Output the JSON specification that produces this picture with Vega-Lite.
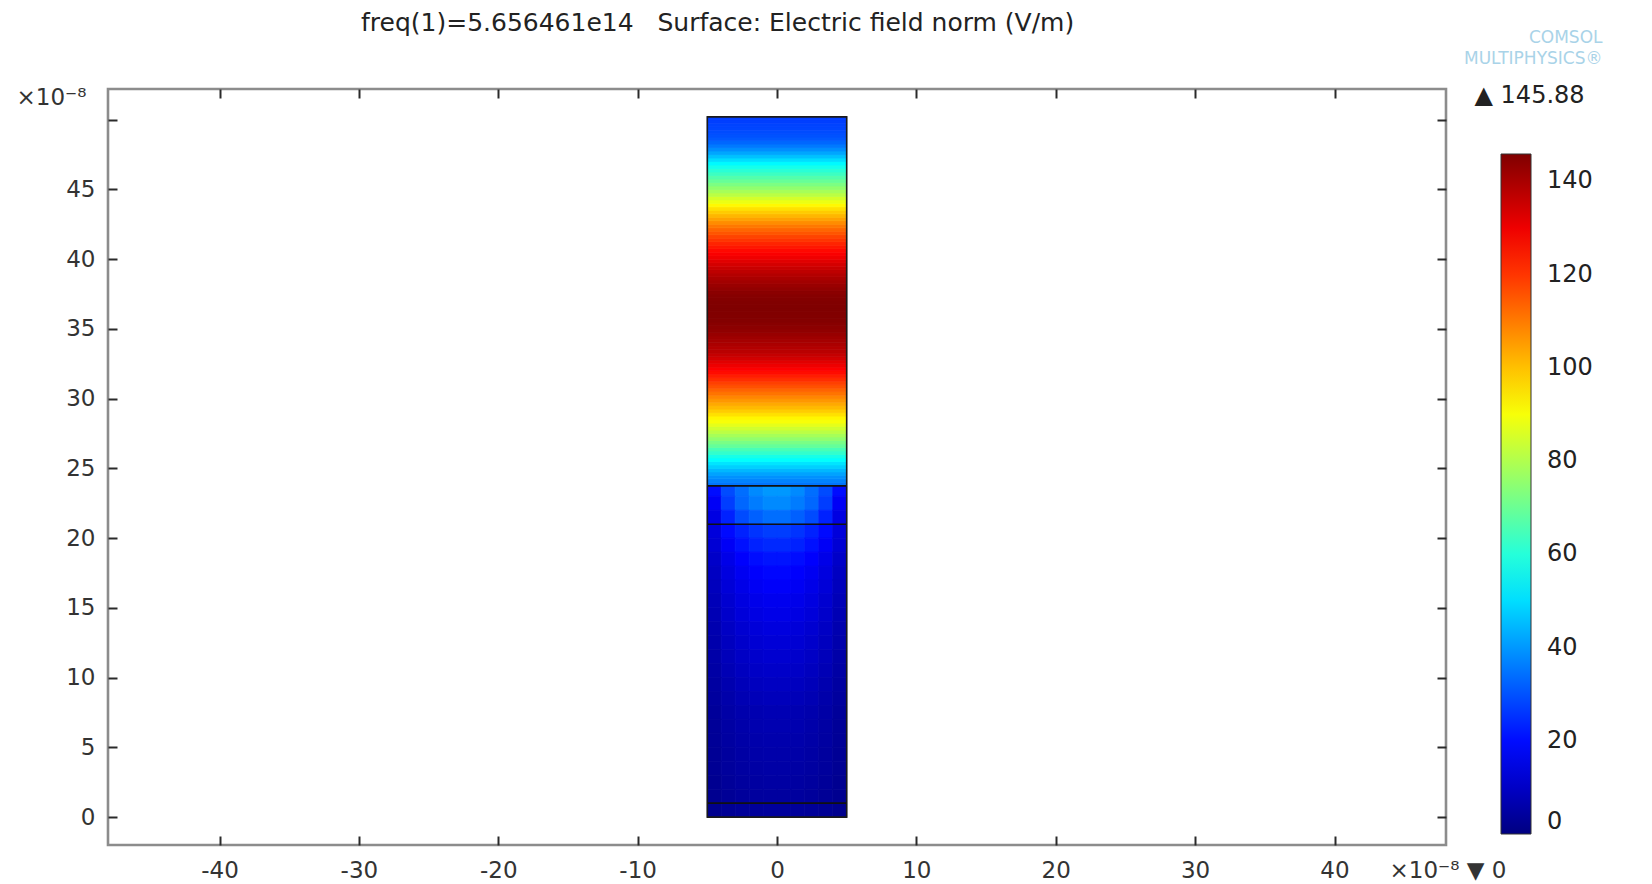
{
"$schema":"https://vega.github.io/schema/vega-lite/v6.json",
"width":1338,"height":756,
"autosize":{"type":"none"},
"padding":{"left":108,"top":89,"right":206,"bottom":39},
"background":"white",
"title":{"text":"freq(1)=5.656461e14\u00a0\u00a0\u00a0Surface: Electric field norm (V/m)","anchor":"start","dx":345,"offset":-28,"baseline":"alphabetic","font":"DejaVu Sans","fontSize":25,"fontWeight":"normal","color":"#222222"},
"datasets":{
"field":[
{"x0":-5,"x1":5,"y0":23.75,"y1":24,"E":35},
{"x0":-5,"x1":5,"y0":24,"y1":24.25,"E":37},
{"x0":-5,"x1":5,"y0":24.25,"y1":24.5,"E":39},
{"x0":-5,"x1":5,"y0":24.5,"y1":24.75,"E":41.5},
{"x0":-5,"x1":5,"y0":24.75,"y1":25,"E":44.5},
{"x0":-5,"x1":5,"y0":25,"y1":25.25,"E":48},
{"x0":-5,"x1":5,"y0":25.25,"y1":25.5,"E":51},
{"x0":-5,"x1":5,"y0":25.5,"y1":25.75,"E":55},
{"x0":-5,"x1":5,"y0":25.75,"y1":26,"E":58},
{"x0":-5,"x1":5,"y0":26,"y1":26.25,"E":62},
{"x0":-5,"x1":5,"y0":26.25,"y1":26.5,"E":65},
{"x0":-5,"x1":5,"y0":26.5,"y1":26.75,"E":69},
{"x0":-5,"x1":5,"y0":26.75,"y1":27,"E":72},
{"x0":-5,"x1":5,"y0":27,"y1":27.25,"E":75.5},
{"x0":-5,"x1":5,"y0":27.25,"y1":27.5,"E":78.5},
{"x0":-5,"x1":5,"y0":27.5,"y1":27.75,"E":81.5},
{"x0":-5,"x1":5,"y0":27.75,"y1":28,"E":84.5},
{"x0":-5,"x1":5,"y0":28,"y1":28.25,"E":87.5},
{"x0":-5,"x1":5,"y0":28.25,"y1":28.5,"E":90},
{"x0":-5,"x1":5,"y0":28.5,"y1":28.75,"E":92.5},
{"x0":-5,"x1":5,"y0":28.75,"y1":29,"E":95.5},
{"x0":-5,"x1":5,"y0":29,"y1":29.25,"E":98.5},
{"x0":-5,"x1":5,"y0":29.25,"y1":29.5,"E":101},
{"x0":-5,"x1":5,"y0":29.5,"y1":29.75,"E":103.5},
{"x0":-5,"x1":5,"y0":29.75,"y1":30,"E":106},
{"x0":-5,"x1":5,"y0":30,"y1":30.25,"E":108.5},
{"x0":-5,"x1":5,"y0":30.25,"y1":30.5,"E":111},
{"x0":-5,"x1":5,"y0":30.5,"y1":30.75,"E":113.5},
{"x0":-5,"x1":5,"y0":30.75,"y1":31,"E":116},
{"x0":-5,"x1":5,"y0":31,"y1":31.25,"E":118.5},
{"x0":-5,"x1":5,"y0":31.25,"y1":31.5,"E":121},
{"x0":-5,"x1":5,"y0":31.5,"y1":31.75,"E":123.5},
{"x0":-5,"x1":5,"y0":31.75,"y1":32,"E":126},
{"x0":-5,"x1":5,"y0":32,"y1":32.25,"E":128},
{"x0":-5,"x1":5,"y0":32.25,"y1":32.5,"E":130},
{"x0":-5,"x1":5,"y0":32.5,"y1":32.75,"E":132},
{"x0":-5,"x1":5,"y0":32.75,"y1":33,"E":134},
{"x0":-5,"x1":5,"y0":33,"y1":33.25,"E":136},
{"x0":-5,"x1":5,"y0":33.25,"y1":33.5,"E":137.5},
{"x0":-5,"x1":5,"y0":33.5,"y1":33.75,"E":138.5},
{"x0":-5,"x1":5,"y0":33.75,"y1":34,"E":139.5},
{"x0":-5,"x1":5,"y0":34,"y1":34.25,"E":140.5},
{"x0":-5,"x1":5,"y0":34.25,"y1":34.5,"E":141.5},
{"x0":-5,"x1":5,"y0":34.5,"y1":34.75,"E":142.5},
{"x0":-5,"x1":5,"y0":34.75,"y1":35,"E":143.5},
{"x0":-5,"x1":5,"y0":35,"y1":35.25,"E":144.2},
{"x0":-5,"x1":5,"y0":35.25,"y1":35.5,"E":144.8},
{"x0":-5,"x1":5,"y0":35.5,"y1":35.75,"E":145.3},
{"x0":-5,"x1":5,"y0":35.75,"y1":36,"E":145.6},
{"x0":-5,"x1":5,"y0":36,"y1":36.25,"E":145.8},
{"x0":-5,"x1":5,"y0":36.25,"y1":36.5,"E":145.88},
{"x0":-5,"x1":5,"y0":36.5,"y1":36.75,"E":145.88},
{"x0":-5,"x1":5,"y0":36.75,"y1":37,"E":145.7},
{"x0":-5,"x1":5,"y0":37,"y1":37.25,"E":145.4},
{"x0":-5,"x1":5,"y0":37.25,"y1":37.5,"E":145},
{"x0":-5,"x1":5,"y0":37.5,"y1":37.75,"E":144.3},
{"x0":-5,"x1":5,"y0":37.75,"y1":38,"E":143.3},
{"x0":-5,"x1":5,"y0":38,"y1":38.25,"E":142.3},
{"x0":-5,"x1":5,"y0":38.25,"y1":38.5,"E":141},
{"x0":-5,"x1":5,"y0":38.5,"y1":38.75,"E":139.8},
{"x0":-5,"x1":5,"y0":38.75,"y1":39,"E":138.5},
{"x0":-5,"x1":5,"y0":39,"y1":39.25,"E":137},
{"x0":-5,"x1":5,"y0":39.25,"y1":39.5,"E":135.5},
{"x0":-5,"x1":5,"y0":39.5,"y1":39.75,"E":133.8},
{"x0":-5,"x1":5,"y0":39.75,"y1":40,"E":132},
{"x0":-5,"x1":5,"y0":40,"y1":40.25,"E":130},
{"x0":-5,"x1":5,"y0":40.25,"y1":40.5,"E":128.3},
{"x0":-5,"x1":5,"y0":40.5,"y1":40.75,"E":126.5},
{"x0":-5,"x1":5,"y0":40.75,"y1":41,"E":124.5},
{"x0":-5,"x1":5,"y0":41,"y1":41.25,"E":122.5},
{"x0":-5,"x1":5,"y0":41.25,"y1":41.5,"E":120.2},
{"x0":-5,"x1":5,"y0":41.5,"y1":41.75,"E":118},
{"x0":-5,"x1":5,"y0":41.75,"y1":42,"E":115.5},
{"x0":-5,"x1":5,"y0":42,"y1":42.25,"E":113},
{"x0":-5,"x1":5,"y0":42.25,"y1":42.5,"E":110.5},
{"x0":-5,"x1":5,"y0":42.5,"y1":42.75,"E":107.5},
{"x0":-5,"x1":5,"y0":42.75,"y1":43,"E":104.5},
{"x0":-5,"x1":5,"y0":43,"y1":43.25,"E":101.5},
{"x0":-5,"x1":5,"y0":43.25,"y1":43.5,"E":98.5},
{"x0":-5,"x1":5,"y0":43.5,"y1":43.75,"E":95.5},
{"x0":-5,"x1":5,"y0":43.75,"y1":44,"E":92},
{"x0":-5,"x1":5,"y0":44,"y1":44.25,"E":88.5},
{"x0":-5,"x1":5,"y0":44.25,"y1":44.5,"E":85},
{"x0":-5,"x1":5,"y0":44.5,"y1":44.75,"E":81.5},
{"x0":-5,"x1":5,"y0":44.75,"y1":45,"E":78.5},
{"x0":-5,"x1":5,"y0":45,"y1":45.25,"E":75.5},
{"x0":-5,"x1":5,"y0":45.25,"y1":45.5,"E":72.5},
{"x0":-5,"x1":5,"y0":45.5,"y1":45.75,"E":69.5},
{"x0":-5,"x1":5,"y0":45.75,"y1":46,"E":66.5},
{"x0":-5,"x1":5,"y0":46,"y1":46.25,"E":63.5},
{"x0":-5,"x1":5,"y0":46.25,"y1":46.5,"E":60.5},
{"x0":-5,"x1":5,"y0":46.5,"y1":46.75,"E":57.5},
{"x0":-5,"x1":5,"y0":46.75,"y1":47,"E":54},
{"x0":-5,"x1":5,"y0":47,"y1":47.25,"E":50},
{"x0":-5,"x1":5,"y0":47.25,"y1":47.5,"E":46},
{"x0":-5,"x1":5,"y0":47.5,"y1":47.75,"E":42},
{"x0":-5,"x1":5,"y0":47.75,"y1":48,"E":38.5},
{"x0":-5,"x1":5,"y0":48,"y1":48.25,"E":35.5},
{"x0":-5,"x1":5,"y0":48.25,"y1":48.5,"E":33},
{"x0":-5,"x1":5,"y0":48.5,"y1":48.75,"E":31},
{"x0":-5,"x1":5,"y0":48.75,"y1":49,"E":30},
{"x0":-5,"x1":5,"y0":49,"y1":49.25,"E":29},
{"x0":-5,"x1":5,"y0":49.25,"y1":49.5,"E":28.3},
{"x0":-5,"x1":5,"y0":49.5,"y1":49.75,"E":27.8},
{"x0":-5,"x1":5,"y0":49.75,"y1":50,"E":27.3},
{"x0":-5,"x1":5,"y0":50,"y1":50.2,"E":27},
{"x0":-5,"x1":-4,"y0":23,"y1":23.75,"E":20},{"x0":-4,"x1":-3,"y0":23,"y1":23.75,"E":29},{"x0":-3,"x1":-2,"y0":23,"y1":23.75,"E":34},{"x0":-2,"x1":-1,"y0":23,"y1":23.75,"E":38},{"x0":-1,"x1":0,"y0":23,"y1":23.75,"E":40},{"x0":0,"x1":1,"y0":23,"y1":23.75,"E":40},{"x0":1,"x1":2,"y0":23,"y1":23.75,"E":38},{"x0":2,"x1":3,"y0":23,"y1":23.75,"E":34},{"x0":3,"x1":4,"y0":23,"y1":23.75,"E":29},{"x0":4,"x1":5,"y0":23,"y1":23.75,"E":20},
{"x0":-5,"x1":-4,"y0":22,"y1":23,"E":17},{"x0":-4,"x1":-3,"y0":22,"y1":23,"E":27},{"x0":-3,"x1":-2,"y0":22,"y1":23,"E":33},{"x0":-2,"x1":-1,"y0":22,"y1":23,"E":36},{"x0":-1,"x1":0,"y0":22,"y1":23,"E":38},{"x0":0,"x1":1,"y0":22,"y1":23,"E":38},{"x0":1,"x1":2,"y0":22,"y1":23,"E":36},{"x0":2,"x1":3,"y0":22,"y1":23,"E":33},{"x0":3,"x1":4,"y0":22,"y1":23,"E":27},{"x0":4,"x1":5,"y0":22,"y1":23,"E":17},
{"x0":-5,"x1":-4,"y0":21,"y1":22,"E":14},{"x0":-4,"x1":-3,"y0":21,"y1":22,"E":23},{"x0":-3,"x1":-2,"y0":21,"y1":22,"E":29},{"x0":-2,"x1":-1,"y0":21,"y1":22,"E":32},{"x0":-1,"x1":0,"y0":21,"y1":22,"E":34},{"x0":0,"x1":1,"y0":21,"y1":22,"E":34},{"x0":1,"x1":2,"y0":21,"y1":22,"E":32},{"x0":2,"x1":3,"y0":21,"y1":22,"E":29},{"x0":3,"x1":4,"y0":21,"y1":22,"E":23},{"x0":4,"x1":5,"y0":21,"y1":22,"E":14},
{"x0":-5,"x1":-4,"y0":20,"y1":21,"E":13},{"x0":-4,"x1":-3,"y0":20,"y1":21,"E":19.5},{"x0":-3,"x1":-2,"y0":20,"y1":21,"E":23},{"x0":-2,"x1":-1,"y0":20,"y1":21,"E":25.5},{"x0":-1,"x1":0,"y0":20,"y1":21,"E":27},{"x0":0,"x1":1,"y0":20,"y1":21,"E":27},{"x0":1,"x1":2,"y0":20,"y1":21,"E":25.5},{"x0":2,"x1":3,"y0":20,"y1":21,"E":23},{"x0":3,"x1":4,"y0":20,"y1":21,"E":19.5},{"x0":4,"x1":5,"y0":20,"y1":21,"E":13},
{"x0":-5,"x1":-4,"y0":19,"y1":20,"E":12},{"x0":-4,"x1":-3,"y0":19,"y1":20,"E":17},{"x0":-3,"x1":-2,"y0":19,"y1":20,"E":20.5},{"x0":-2,"x1":-1,"y0":19,"y1":20,"E":23},{"x0":-1,"x1":0,"y0":19,"y1":20,"E":24},{"x0":0,"x1":1,"y0":19,"y1":20,"E":24},{"x0":1,"x1":2,"y0":19,"y1":20,"E":23},{"x0":2,"x1":3,"y0":19,"y1":20,"E":20.5},{"x0":3,"x1":4,"y0":19,"y1":20,"E":17},{"x0":4,"x1":5,"y0":19,"y1":20,"E":12},
{"x0":-5,"x1":-4,"y0":18,"y1":19,"E":10.5},{"x0":-4,"x1":-3,"y0":18,"y1":19,"E":15},{"x0":-3,"x1":-2,"y0":18,"y1":19,"E":18},{"x0":-2,"x1":-1,"y0":18,"y1":19,"E":20},{"x0":-1,"x1":0,"y0":18,"y1":19,"E":21},{"x0":0,"x1":1,"y0":18,"y1":19,"E":21},{"x0":1,"x1":2,"y0":18,"y1":19,"E":20},{"x0":2,"x1":3,"y0":18,"y1":19,"E":18},{"x0":3,"x1":4,"y0":18,"y1":19,"E":15},{"x0":4,"x1":5,"y0":18,"y1":19,"E":10.5},
{"x0":-5,"x1":-4,"y0":17,"y1":18,"E":9.5},{"x0":-4,"x1":-3,"y0":17,"y1":18,"E":13.7},{"x0":-3,"x1":-2,"y0":17,"y1":18,"E":16.3},{"x0":-2,"x1":-1,"y0":17,"y1":18,"E":18},{"x0":-1,"x1":0,"y0":17,"y1":18,"E":19},{"x0":0,"x1":1,"y0":17,"y1":18,"E":19},{"x0":1,"x1":2,"y0":17,"y1":18,"E":18},{"x0":2,"x1":3,"y0":17,"y1":18,"E":16.3},{"x0":3,"x1":4,"y0":17,"y1":18,"E":13.7},{"x0":4,"x1":5,"y0":17,"y1":18,"E":9.5},
{"x0":-5,"x1":-4,"y0":16,"y1":17,"E":8.8},{"x0":-4,"x1":-3,"y0":16,"y1":17,"E":12.6},{"x0":-3,"x1":-2,"y0":16,"y1":17,"E":15},{"x0":-2,"x1":-1,"y0":16,"y1":17,"E":16.6},{"x0":-1,"x1":0,"y0":16,"y1":17,"E":17.5},{"x0":0,"x1":1,"y0":16,"y1":17,"E":17.5},{"x0":1,"x1":2,"y0":16,"y1":17,"E":16.6},{"x0":2,"x1":3,"y0":16,"y1":17,"E":15},{"x0":3,"x1":4,"y0":16,"y1":17,"E":12.6},{"x0":4,"x1":5,"y0":16,"y1":17,"E":8.8},
{"x0":-5,"x1":-4,"y0":15,"y1":16,"E":8},{"x0":-4,"x1":-3,"y0":15,"y1":16,"E":11.5},{"x0":-3,"x1":-2,"y0":15,"y1":16,"E":13.8},{"x0":-2,"x1":-1,"y0":15,"y1":16,"E":15.2},{"x0":-1,"x1":0,"y0":15,"y1":16,"E":16},{"x0":0,"x1":1,"y0":15,"y1":16,"E":16},{"x0":1,"x1":2,"y0":15,"y1":16,"E":15.2},{"x0":2,"x1":3,"y0":15,"y1":16,"E":13.8},{"x0":3,"x1":4,"y0":15,"y1":16,"E":11.5},{"x0":4,"x1":5,"y0":15,"y1":16,"E":8},
{"x0":-5,"x1":-4,"y0":14,"y1":15,"E":7.5},{"x0":-4,"x1":-3,"y0":14,"y1":15,"E":10.8},{"x0":-3,"x1":-2,"y0":14,"y1":15,"E":12.9},{"x0":-2,"x1":-1,"y0":14,"y1":15,"E":14.2},{"x0":-1,"x1":0,"y0":14,"y1":15,"E":15},{"x0":0,"x1":1,"y0":14,"y1":15,"E":15},{"x0":1,"x1":2,"y0":14,"y1":15,"E":14.2},{"x0":2,"x1":3,"y0":14,"y1":15,"E":12.9},{"x0":3,"x1":4,"y0":14,"y1":15,"E":10.8},{"x0":4,"x1":5,"y0":14,"y1":15,"E":7.5},
{"x0":-5,"x1":-4,"y0":13,"y1":14,"E":6.8},{"x0":-4,"x1":-3,"y0":13,"y1":14,"E":9.7},{"x0":-3,"x1":-2,"y0":13,"y1":14,"E":11.6},{"x0":-2,"x1":-1,"y0":13,"y1":14,"E":12.8},{"x0":-1,"x1":0,"y0":13,"y1":14,"E":13.5},{"x0":0,"x1":1,"y0":13,"y1":14,"E":13.5},{"x0":1,"x1":2,"y0":13,"y1":14,"E":12.8},{"x0":2,"x1":3,"y0":13,"y1":14,"E":11.6},{"x0":3,"x1":4,"y0":13,"y1":14,"E":9.7},{"x0":4,"x1":5,"y0":13,"y1":14,"E":6.8},
{"x0":-5,"x1":-4,"y0":12,"y1":13,"E":6.3},{"x0":-4,"x1":-3,"y0":12,"y1":13,"E":9},{"x0":-3,"x1":-2,"y0":12,"y1":13,"E":10.8},{"x0":-2,"x1":-1,"y0":12,"y1":13,"E":11.9},{"x0":-1,"x1":0,"y0":12,"y1":13,"E":12.5},{"x0":0,"x1":1,"y0":12,"y1":13,"E":12.5},{"x0":1,"x1":2,"y0":12,"y1":13,"E":11.9},{"x0":2,"x1":3,"y0":12,"y1":13,"E":10.8},{"x0":3,"x1":4,"y0":12,"y1":13,"E":9},{"x0":4,"x1":5,"y0":12,"y1":13,"E":6.3},
{"x0":-5,"x1":-4,"y0":11,"y1":12,"E":5.8},{"x0":-4,"x1":-3,"y0":11,"y1":12,"E":8.3},{"x0":-3,"x1":-2,"y0":11,"y1":12,"E":9.9},{"x0":-2,"x1":-1,"y0":11,"y1":12,"E":10.9},{"x0":-1,"x1":0,"y0":11,"y1":12,"E":11.5},{"x0":0,"x1":1,"y0":11,"y1":12,"E":11.5},{"x0":1,"x1":2,"y0":11,"y1":12,"E":10.9},{"x0":2,"x1":3,"y0":11,"y1":12,"E":9.9},{"x0":3,"x1":4,"y0":11,"y1":12,"E":8.3},{"x0":4,"x1":5,"y0":11,"y1":12,"E":5.8},
{"x0":-5,"x1":-4,"y0":10,"y1":11,"E":5.3},{"x0":-4,"x1":-3,"y0":10,"y1":11,"E":7.6},{"x0":-3,"x1":-2,"y0":10,"y1":11,"E":9},{"x0":-2,"x1":-1,"y0":10,"y1":11,"E":10},{"x0":-1,"x1":0,"y0":10,"y1":11,"E":10.5},{"x0":0,"x1":1,"y0":10,"y1":11,"E":10.5},{"x0":1,"x1":2,"y0":10,"y1":11,"E":10},{"x0":2,"x1":3,"y0":10,"y1":11,"E":9},{"x0":3,"x1":4,"y0":10,"y1":11,"E":7.6},{"x0":4,"x1":5,"y0":10,"y1":11,"E":5.3},
{"x0":-5,"x1":-4,"y0":9,"y1":10,"E":4.8},{"x0":-4,"x1":-3,"y0":9,"y1":10,"E":6.8},{"x0":-3,"x1":-2,"y0":9,"y1":10,"E":8.2},{"x0":-2,"x1":-1,"y0":9,"y1":10,"E":9},{"x0":-1,"x1":0,"y0":9,"y1":10,"E":9.5},{"x0":0,"x1":1,"y0":9,"y1":10,"E":9.5},{"x0":1,"x1":2,"y0":9,"y1":10,"E":9},{"x0":2,"x1":3,"y0":9,"y1":10,"E":8.2},{"x0":3,"x1":4,"y0":9,"y1":10,"E":6.8},{"x0":4,"x1":5,"y0":9,"y1":10,"E":4.8},
{"x0":-5,"x1":-4,"y0":8,"y1":9,"E":4.3},{"x0":-4,"x1":-3,"y0":8,"y1":9,"E":6.1},{"x0":-3,"x1":-2,"y0":8,"y1":9,"E":7.3},{"x0":-2,"x1":-1,"y0":8,"y1":9,"E":8.1},{"x0":-1,"x1":0,"y0":8,"y1":9,"E":8.5},{"x0":0,"x1":1,"y0":8,"y1":9,"E":8.5},{"x0":1,"x1":2,"y0":8,"y1":9,"E":8.1},{"x0":2,"x1":3,"y0":8,"y1":9,"E":7.3},{"x0":3,"x1":4,"y0":8,"y1":9,"E":6.1},{"x0":4,"x1":5,"y0":8,"y1":9,"E":4.3},
{"x0":-5,"x1":-4,"y0":7,"y1":8,"E":3.8},{"x0":-4,"x1":-3,"y0":7,"y1":8,"E":5.4},{"x0":-3,"x1":-2,"y0":7,"y1":8,"E":6.5},{"x0":-2,"x1":-1,"y0":7,"y1":8,"E":7.1},{"x0":-1,"x1":0,"y0":7,"y1":8,"E":7.5},{"x0":0,"x1":1,"y0":7,"y1":8,"E":7.5},{"x0":1,"x1":2,"y0":7,"y1":8,"E":7.1},{"x0":2,"x1":3,"y0":7,"y1":8,"E":6.5},{"x0":3,"x1":4,"y0":7,"y1":8,"E":5.4},{"x0":4,"x1":5,"y0":7,"y1":8,"E":3.8},
{"x0":-5,"x1":-4,"y0":6,"y1":7,"E":3.5},{"x0":-4,"x1":-3,"y0":6,"y1":7,"E":5},{"x0":-3,"x1":-2,"y0":6,"y1":7,"E":6},{"x0":-2,"x1":-1,"y0":6,"y1":7,"E":6.7},{"x0":-1,"x1":0,"y0":6,"y1":7,"E":7},{"x0":0,"x1":1,"y0":6,"y1":7,"E":7},{"x0":1,"x1":2,"y0":6,"y1":7,"E":6.7},{"x0":2,"x1":3,"y0":6,"y1":7,"E":6},{"x0":3,"x1":4,"y0":6,"y1":7,"E":5},{"x0":4,"x1":5,"y0":6,"y1":7,"E":3.5},
{"x0":-5,"x1":-4,"y0":5,"y1":6,"E":3.3},{"x0":-4,"x1":-3,"y0":5,"y1":6,"E":4.7},{"x0":-3,"x1":-2,"y0":5,"y1":6,"E":5.6},{"x0":-2,"x1":-1,"y0":5,"y1":6,"E":6.2},{"x0":-1,"x1":0,"y0":5,"y1":6,"E":6.5},{"x0":0,"x1":1,"y0":5,"y1":6,"E":6.5},{"x0":1,"x1":2,"y0":5,"y1":6,"E":6.2},{"x0":2,"x1":3,"y0":5,"y1":6,"E":5.6},{"x0":3,"x1":4,"y0":5,"y1":6,"E":4.7},{"x0":4,"x1":5,"y0":5,"y1":6,"E":3.3},
{"x0":-5,"x1":-4,"y0":4,"y1":5,"E":3},{"x0":-4,"x1":-3,"y0":4,"y1":5,"E":4.3},{"x0":-3,"x1":-2,"y0":4,"y1":5,"E":5.2},{"x0":-2,"x1":-1,"y0":4,"y1":5,"E":5.7},{"x0":-1,"x1":0,"y0":4,"y1":5,"E":6},{"x0":0,"x1":1,"y0":4,"y1":5,"E":6},{"x0":1,"x1":2,"y0":4,"y1":5,"E":5.7},{"x0":2,"x1":3,"y0":4,"y1":5,"E":5.2},{"x0":3,"x1":4,"y0":4,"y1":5,"E":4.3},{"x0":4,"x1":5,"y0":4,"y1":5,"E":3},
{"x0":-5,"x1":-4,"y0":3,"y1":4,"E":2.8},{"x0":-4,"x1":-3,"y0":3,"y1":4,"E":4},{"x0":-3,"x1":-2,"y0":3,"y1":4,"E":4.7},{"x0":-2,"x1":-1,"y0":3,"y1":4,"E":5.2},{"x0":-1,"x1":0,"y0":3,"y1":4,"E":5.5},{"x0":0,"x1":1,"y0":3,"y1":4,"E":5.5},{"x0":1,"x1":2,"y0":3,"y1":4,"E":5.2},{"x0":2,"x1":3,"y0":3,"y1":4,"E":4.7},{"x0":3,"x1":4,"y0":3,"y1":4,"E":4},{"x0":4,"x1":5,"y0":3,"y1":4,"E":2.8},
{"x0":-5,"x1":-4,"y0":2,"y1":3,"E":2.5},{"x0":-4,"x1":-3,"y0":2,"y1":3,"E":3.6},{"x0":-3,"x1":-2,"y0":2,"y1":3,"E":4.3},{"x0":-2,"x1":-1,"y0":2,"y1":3,"E":4.8},{"x0":-1,"x1":0,"y0":2,"y1":3,"E":5},{"x0":0,"x1":1,"y0":2,"y1":3,"E":5},{"x0":1,"x1":2,"y0":2,"y1":3,"E":4.8},{"x0":2,"x1":3,"y0":2,"y1":3,"E":4.3},{"x0":3,"x1":4,"y0":2,"y1":3,"E":3.6},{"x0":4,"x1":5,"y0":2,"y1":3,"E":2.5},
{"x0":-5,"x1":-4,"y0":1,"y1":2,"E":2.3},{"x0":-4,"x1":-3,"y0":1,"y1":2,"E":3.2},{"x0":-3,"x1":-2,"y0":1,"y1":2,"E":3.9},{"x0":-2,"x1":-1,"y0":1,"y1":2,"E":4.3},{"x0":-1,"x1":0,"y0":1,"y1":2,"E":4.5},{"x0":0,"x1":1,"y0":1,"y1":2,"E":4.5},{"x0":1,"x1":2,"y0":1,"y1":2,"E":4.3},{"x0":2,"x1":3,"y0":1,"y1":2,"E":3.9},{"x0":3,"x1":4,"y0":1,"y1":2,"E":3.2},{"x0":4,"x1":5,"y0":1,"y1":2,"E":2.3},
{"x0":-5,"x1":-4,"y0":0,"y1":1,"E":2},{"x0":-4,"x1":-3,"y0":0,"y1":1,"E":2.9},{"x0":-3,"x1":-2,"y0":0,"y1":1,"E":3.4},{"x0":-2,"x1":-1,"y0":0,"y1":1,"E":3.8},{"x0":-1,"x1":0,"y0":0,"y1":1,"E":4},{"x0":0,"x1":1,"y0":0,"y1":1,"E":4},{"x0":1,"x1":2,"y0":0,"y1":1,"E":3.8},{"x0":2,"x1":3,"y0":0,"y1":1,"E":3.4},{"x0":3,"x1":4,"y0":0,"y1":1,"E":2.9},{"x0":4,"x1":5,"y0":0,"y1":1,"E":2}
],
"lines":[{"x0":-5,"x1":5,"y0":1},{"x0":-5,"x1":5,"y0":21},{"x0":-5,"x1":5,"y0":23.75}],
"box":[{"x0":-5,"x1":5,"y0":0,"y1":50.2}]
},
"layer":[
{"data":{"name":"field"},
 "mark":{"type":"rect","strokeWidth":0.8},
 "encoding":{
  "x":{"field":"x0","type":"quantitative","scale":{"domain":[-48,48],"nice":false,"zero":false},
       "axis":{"orient":"bottom","values":[-40,-30,-20,-10,0,10,20,30,40],"labelExpr":"datum.value < 0 ? '-' + abs(datum.value) : '' + datum.value","labelPadding":23,"title":"×10⁻⁸  ▼ 0","titleX":1281,"titleY":32,"titleAlign":"left","titleBaseline":"alphabetic","titleAngle":0,"titleAnchor":"start"}},
  "x2":{"field":"x1"},
  "y":{"field":"y0","type":"quantitative","scale":{"domain":[-2,52.2],"nice":false,"zero":false},
       "axis":{"orient":"left","values":[0,5,10,15,20,25,30,35,40,45,50],"labelExpr":"datum.value == 50 ? '' : datum.label","labelPadding":22,"title":"×10⁻⁸","titleX":-92,"titleY":15,"titleAlign":"left","titleBaseline":"alphabetic","titleAngle":0,"titleAnchor":"start"}},
  "y2":{"field":"y1"},
  "color":{"field":"E","type":"quantitative","scale":{"domain":[0,18.235,54.705,91.175,127.645,145.88],"range":["#000080","#0000ff","#00ffff","#ffff00","#ff0000","#800000"],"interpolate":"rgb"},
    "legend":{"type":"gradient","orient":"none","legendX":1393,"legendY":65,"direction":"vertical","gradientLength":680,"gradientThickness":30,"title":null,"values":[0,20,40,60,80,100,120,140],"padding":0,"labelOffset":16,"labelBaseline":"middle","labelOverlap":false,"gradientStrokeColor":"#333333","gradientStrokeWidth":1}},
  "stroke":{"field":"E","type":"quantitative","scale":{"domain":[0,18.2351,54.7051,91.1751,127.6451,145.8801],"range":["#000080","#0000ff","#00ffff","#ffff00","#ff0000","#800000"],"interpolate":"rgb"},"legend":null}
 }},
{"data":{"name":"lines"},
 "mark":{"type":"rule","color":"#111111","strokeWidth":1.6},
 "encoding":{
  "x":{"field":"x0","type":"quantitative","axis":{"orient":"top","values":[-40,-30,-20,-10,0,10,20,30,40],"labels":false,"title":["COMSOL","MULTIPHYSICS®"],"titleX":1494,"titleY":-47,"titleAlign":"right","titleBaseline":"alphabetic","titleAngle":0,"titleAnchor":"start","titleColor":"#a9d3e8","titleFontSize":17,"titleLineHeight":21}},
  "x2":{"field":"x1"},
  "y":{"field":"y0","type":"quantitative","axis":{"orient":"right","values":[0,5,10,15,20,25,30,35,40,45,50],"labels":false,"title":"▲ 145.88","titleX":28,"titleY":13,"titleAlign":"left","titleBaseline":"alphabetic","titleAngle":0,"titleAnchor":"start","titleFontSize":24,"titleColor":"#222222"}}
 }},
{"data":{"name":"box"},
 "mark":{"type":"rect","filled":false,"stroke":"#1a1a1a","strokeWidth":1.6},
 "encoding":{
  "x":{"field":"x0","type":"quantitative","axis":null},
  "x2":{"field":"x1"},
  "y":{"field":"y0","type":"quantitative","axis":null},
  "y2":{"field":"y1"}
 }}
],
"resolve":{"axis":{"x":"independent","y":"independent"}},
"config":{
 "view":{"stroke":"#8c8c8c","strokeWidth":2.6},
 "axis":{"domain":false,"grid":false,"ticks":true,"tickColor":"#2a2a2a","tickWidth":2,"tickSize":-9,"labelFont":"DejaVu Sans","labelFontSize":23,"labelColor":"#333333","labelOverlap":false,"labelFlush":false,"titleFont":"DejaVu Sans","titleFontSize":23,"titleFontWeight":"normal","titleColor":"#333333"},
 "legend":{"labelFont":"DejaVu Sans","labelFontSize":24,"labelColor":"#222222"}
}
}
